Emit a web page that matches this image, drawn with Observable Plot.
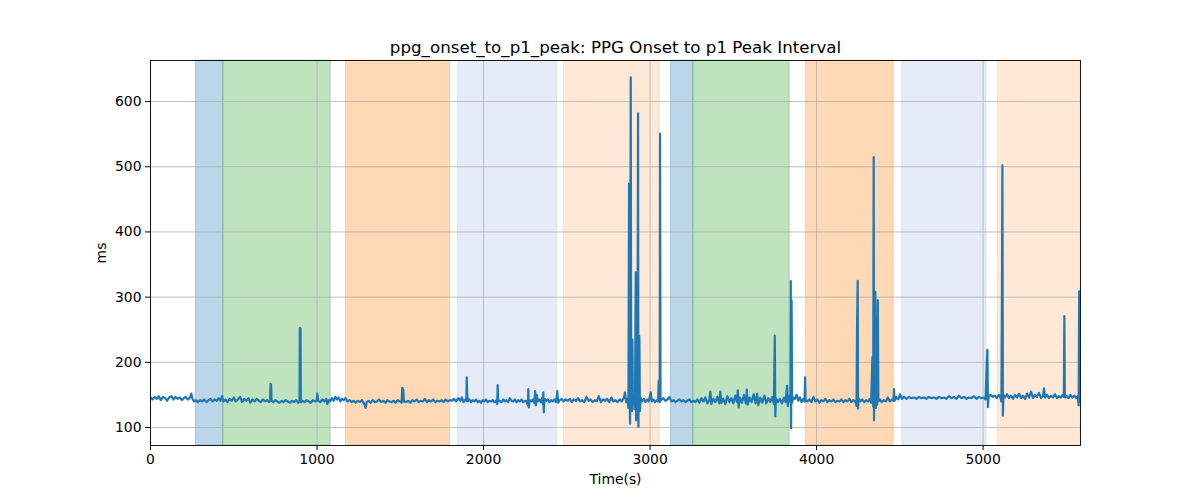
<!DOCTYPE html>
<html>
<head>
<meta charset="utf-8">
<script src="https://cdn.jsdelivr.net/npm/d3@7"></script>
<script src="https://cdn.jsdelivr.net/npm/@observablehq/plot@0.6"></script>
<style>
  html, body { margin: 0; padding: 0; background: #fff; }
  #chart { width: 1200px; height: 500px; }
</style>
</head>
<body>
<div id="chart"></div>
<script>
// ---- data ----
const titleText = "ppg_onset_to_p1_peak: PPG Onset to p1 Peak Interval";
const xLabel = "Time(s)";
const yLabel = "ms";
const xTicks = [0, 1000, 2000, 3000, 4000, 5000];
const yTicks = [100, 200, 300, 400, 500, 600];
const xDomain = [0, 5585];
const yDomain = [72.4, 663];

const spanStart = [273, 437, 1174, 1847, 2483, 3126, 3260, 3937, 4514, 5088];
const spanEnd   = [437, 1082, 1799, 2441, 3058, 3260, 3839, 4463, 5020, 5585];
const spanKind  = ["blue", "green", "orange", "lightblue", "lightorange",
                   "blue", "green", "orange", "lightblue", "lightorange"];

// [time s, interval ms]
const samples = [
[0,146],[12,143],[25,147],[38,144],[50,148],[62,142],[75,147],[88,145],[100,141],[112,146],[125,148],[138,143],[150,147],[162,144],[175,146],[188,142],[200,145],[212,147],[225,143],[237,146],[245,152],[252,144],[262,140],[272,142],
[285,139],[298,142],[310,140],[322,143],[335,139],[348,142],[360,144],[372,140],[385,143],[398,141],[410,145],[420,141],[430,148],[438,140],
[450,143],[462,139],[475,144],[488,141],[500,146],[512,140],[525,143],[538,147],[550,139],[562,144],[575,141],[588,145],[600,138],[612,143],[625,140],[638,144],[650,141],[662,139],[675,143],[688,140],[700,142],[712,139],[718,141],[721,167],[724,166],[727,141],[738,139],[750,142],[762,140],[775,138],[788,141],[800,139],[812,142],[825,140],[838,138],[850,141],[862,139],[875,142],[888,138],[895,140],[897,253],[901,252],[903,139],[912,141],[925,139],[938,142],[950,140],[962,138],[975,142],[988,140],[998,141],[1002,152],[1007,141],[1020,139],[1032,143],[1045,140],[1055,144],[1062,136],[1070,142],[1078,140],
[1090,145],[1100,141],[1110,147],[1120,143],[1130,146],[1140,140],[1150,144],[1160,142],[1170,145],
[1182,140],[1195,142],[1208,139],[1220,141],[1232,138],[1245,141],[1258,139],[1270,142],[1282,137],[1292,130],[1298,139],[1310,141],[1322,138],[1335,142],[1348,139],[1360,140],[1372,143],[1385,139],[1398,141],[1410,138],[1422,142],[1435,140],[1448,139],[1460,141],[1472,138],[1485,142],[1498,140],[1508,138],[1512,161],[1518,158],[1522,140],[1535,139],[1548,141],[1560,138],[1572,142],[1585,140],[1598,143],[1610,139],[1622,141],[1635,140],[1648,144],[1660,139],[1672,142],[1685,140],[1698,143],[1710,139],[1722,141],[1735,140],[1748,142],[1760,139],[1772,143],[1785,140],[1798,142],
[1810,141],[1822,144],[1835,140],[1848,145],
[1860,141],[1870,146],[1880,139],[1890,143],[1897,141],[1899,177],[1902,150],[1906,140],[1915,143],[1925,139],[1935,142],[1945,140],[1955,143],[1965,139],[1975,141],[1985,138],[1995,142],[2005,140],[2015,143],[2025,139],[2035,141],[2045,140],[2055,142],[2065,139],[2075,141],[2082,136],[2085,165],[2088,140],[2098,141],[2108,139],[2118,143],[2128,140],[2138,142],[2148,139],[2158,145],[2168,141],[2178,140],[2188,143],[2198,139],[2208,142],[2218,140],[2228,143],[2238,139],[2248,141],[2258,140],[2266,134],[2269,159],[2272,131],[2276,142],[2286,140],[2296,143],[2305,138],[2310,156],[2314,134],[2320,150],[2324,140],[2334,143],[2344,139],[2352,145],[2356,136],[2359,154],[2362,123],[2366,144],[2376,141],[2386,143],[2396,139],[2406,142],[2416,140],[2426,143],[2436,139],[2443,156],[2448,138],
[2458,142],[2470,144],[2480,140],[2492,143],[2505,141],[2518,144],[2530,139],[2542,143],[2555,141],[2568,145],[2580,140],[2592,142],[2605,139],[2618,147],[2630,141],[2642,143],[2655,139],[2668,142],[2680,140],[2692,148],[2705,139],[2718,143],[2730,141],[2742,144],[2755,139],[2768,146],[2780,140],[2792,142],[2805,139],[2818,143],[2830,140],[2842,145],[2850,154],[2856,139],[2864,144],[2870,130],[2874,474],[2877,140],[2880,106],[2884,637],[2887,138],[2891,125],[2894,235],[2897,140],[2902,150],[2906,128],[2910,145],[2914,338],[2916,111],[2920,150],[2924,130],[2928,582],[2930,101],[2933,160],[2936,240],[2939,125],[2944,145],[2952,140],[2962,144],[2972,139],[2982,143],[2992,140],[3004,154],[3010,140],[3020,143],[3030,139],[3040,142],[3048,140],[3052,172],[3055,141],[3058,139],[3060,551],[3063,141],[3070,143],
[3080,145],[3092,141],[3104,143],[3116,147],[3128,140],[3140,142],[3152,139],[3164,141],[3176,143],[3188,140],[3200,142],[3212,139],[3224,141],[3236,143],[3248,139],[3260,141],
[3272,139],[3284,143],[3296,138],[3308,145],[3320,140],[3332,146],[3344,137],[3356,142],[3362,155],[3368,136],[3380,144],[3392,139],[3404,147],[3416,137],[3422,155],[3428,138],[3440,144],[3452,136],[3464,148],[3476,139],[3488,145],[3500,137],[3512,149],[3522,139],[3527,157],[3532,131],[3540,146],[3552,138],[3564,150],[3576,137],[3581,158],[3586,135],[3598,146],[3610,139],[3622,151],[3634,137],[3643,152],[3650,134],[3662,146],[3674,138],[3686,149],[3698,137],[3710,145],[3722,139],[3734,147],[3744,136],[3749,241],[3752,117],[3756,145],[3768,139],[3780,144],[3792,137],[3804,146],[3814,139],[3823,164],[3827,133],[3835,148],[3843,140],[3845,325],[3847,99],[3850,295],[3853,138],[3860,146],
[3870,144],[3880,150],[3890,141],[3900,146],[3910,139],[3920,144],[3928,140],[3931,177],[3934,142],
[3945,140],[3957,143],[3969,139],[3981,147],[3993,140],[4005,143],[4017,138],[4029,142],[4041,140],[4053,144],[4065,139],[4077,142],[4089,140],[4101,143],[4113,139],[4125,141],[4137,140],[4149,143],[4161,139],[4173,142],[4185,140],[4197,144],[4209,139],[4221,142],[4233,140],[4240,133],[4243,250],[4247,325],[4249,129],[4252,145],[4262,140],[4274,143],[4286,139],[4298,142],[4310,140],[4320,144],[4328,138],[4335,208],[4340,132],[4343,515],[4345,111],[4349,250],[4353,308],[4356,130],[4360,270],[4364,135],[4368,295],[4371,140],[4380,143],[4392,139],[4404,142],[4416,140],[4428,146],[4440,140],[4452,143],[4462,141],[4465,159],[4468,141],
[4478,147],[4490,143],[4502,151],[4512,144],
[4525,147],[4540,144],[4555,147],[4570,145],[4585,146],[4600,144],[4615,147],[4630,145],[4645,146],[4660,144],[4675,147],[4690,145],[4705,146],[4720,144],[4735,147],[4750,145],[4765,146],[4780,144],[4795,148],[4810,145],[4825,147],[4840,144],[4855,149],[4870,145],[4885,147],[4900,144],[4915,146],[4930,145],[4945,148],[4960,144],[4975,147],[4990,145],[5005,146],[5015,143],[5022,200],[5026,219],[5029,131],[5033,148],
[5045,150],[5058,147],[5070,149],[5082,145],[5094,150],[5104,146],[5110,140],[5113,290],[5116,502],[5119,118],[5122,150],[5132,146],[5144,151],[5156,145],[5168,149],[5180,144],[5192,150],[5204,146],[5216,152],[5228,145],[5240,149],[5252,144],[5264,152],[5276,146],[5288,155],[5300,145],[5312,150],[5324,147],[5336,153],[5348,145],[5360,149],[5366,160],[5372,146],[5384,150],[5396,145],[5408,149],[5420,146],[5432,151],[5444,145],[5456,148],[5468,146],[5478,150],[5485,147],[5488,271],[5491,146],[5500,149],[5512,145],[5524,150],[5536,146],[5548,149],[5560,145],[5568,148],[5574,134],[5577,309],[5580,140],[5584,146]
];

// ---- styles ----
const spanStyle = {
  blue:        {color: "#1f77b4", opacity: 0.3},
  green:       {color: "#2ca02c", opacity: 0.3},
  orange:      {color: "#ff7f0e", opacity: 0.3},
  lightblue:   {color: "#6d93d6", opacity: 0.18},
  lightorange: {color: "#ff7f0e", opacity: 0.17}
};

const spans = spanStart.map((s, i) => ({x1: s, x2: spanEnd[i], kind: spanKind[i]}));
const points = samples.map(([t, v]) => ({t, v}));
const font = "'DejaVu Sans', sans-serif";

const marks = [];
for (const k of Object.keys(spanStyle)) {
  const st = spanStyle[k];
  marks.push(Plot.rectX(spans.filter(d => d.kind === k), {
    x1: "x1", x2: "x2", y1: yDomain[0], y2: yDomain[1],
    fill: st.color, fillOpacity: st.opacity,
    stroke: st.color, strokeOpacity: st.opacity, strokeWidth: 1
  }));
}
marks.push(
  Plot.gridX(xTicks, {stroke: "#b0b0b0", strokeOpacity: 1, strokeWidth: 0.8}),
  Plot.gridY(yTicks, {stroke: "#b0b0b0", strokeOpacity: 1, strokeWidth: 0.8}),
  Plot.line(points, {x: "t", y: "v", stroke: "#1f77b4", strokeWidth: 2.2, strokeLinejoin: "round", clip: true}),
  Plot.frame({stroke: "#000", strokeWidth: 0.9}),
  Plot.axisX(xTicks, {tickSize: 5, tickPadding: 4, label: null, fontSize: 13.9, tickFormat: d => String(d)}),
  Plot.axisY(yTicks, {tickSize: 5, tickPadding: 4, label: null, fontSize: 13.9, tickFormat: d => String(d)}),
  Plot.text([titleText], {frameAnchor: "top", lineAnchor: "bottom", dy: -8, fontSize: 16.7, fill: "#000"}),
  Plot.text([xLabel], {frameAnchor: "bottom", lineAnchor: "top", dy: 29, fontSize: 13.9, fill: "#000"}),
  Plot.text([yLabel], {frameAnchor: "left", lineAnchor: "middle", textAnchor: "middle", dx: -49, rotate: -90, fontSize: 13.9, fill: "#000"})
);

const chart = Plot.plot({
  width: 1200,
  height: 500,
  marginLeft: 150,
  marginRight: 120,
  marginTop: 60,
  marginBottom: 55,
  x: {domain: xDomain, label: null},
  y: {domain: yDomain, label: null},
  style: {fontFamily: font, fontSize: "13.9px", color: "#000", background: "#fff"},
  marks
});
document.getElementById("chart").appendChild(chart);
</script>
</body>
</html>
